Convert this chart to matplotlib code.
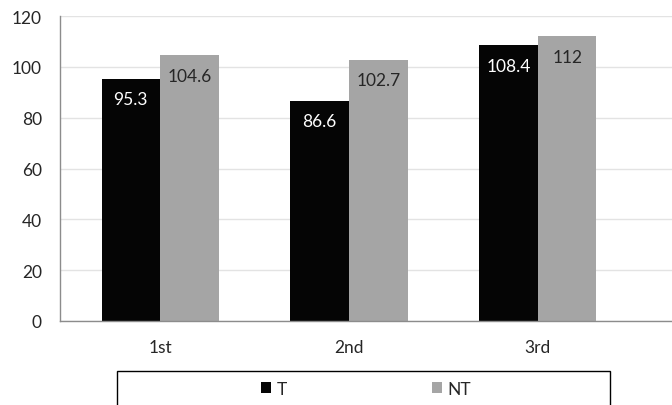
import matplotlib
matplotlib.use("Agg")
import matplotlib.pyplot as plt
import numpy as np
from matplotlib.patches import Rectangle

categories = ["1st", "2nd", "3rd"]
t_values = [95.3, 86.6, 108.4]
nt_values = [104.6, 102.7, 112]
t_labels = ["95.3", "86.6", "108.4"]
nt_labels = ["104.6", "102.7", "112"]
y_ticks = [0, 20, 40, 60, 80, 100, 120]

plt.rcParams['font.family'] = ['Lato', 'DejaVu Sans']
FS = 12.5

fig = plt.figure(figsize=(6.72, 4.06), dpi=100)
ax = fig.add_axes([60/672, (406-322)/406, 1 - 60/672, (322-17)/406])

x = np.arange(len(categories))
w = 0.31
bt = ax.bar(x - w/2, t_values, width=w, color="#050505", label="T", zorder=3)
bn = ax.bar(x + w/2, nt_values, width=w, color="#a5a5a5", label="NT", zorder=3)

for rect, lab in zip(bt, t_labels):
    ax.annotate(lab, (rect.get_x() + rect.get_width()/2, rect.get_height()),
                xytext=(0, -9), textcoords="offset points", ha="center", va="top",
                color="white", fontsize=FS, zorder=4)
for rect, lab in zip(bn, nt_labels):
    ax.annotate(lab, (rect.get_x() + rect.get_width()/2, rect.get_height()),
                xytext=(0, -9), textcoords="offset points", ha="center", va="top",
                color="#262626", fontsize=FS, zorder=4)

ax.set_ylim(0, 120)
ax.set_xlim(-0.53, 2.71)
ax.set_yticks(y_ticks)
ax.set_xticks(x)
ax.set_xticklabels(categories)
ax.tick_params(axis="y", length=0, pad=13, labelsize=FS, labelcolor="#262626")
ax.tick_params(axis="x", length=0, pad=13, labelsize=FS, labelcolor="#262626")
ax.yaxis.grid(True, color="#e3e3e3", linewidth=1, zorder=0)
for s in ["top", "right"]:
    ax.spines[s].set_visible(False)
for s in ["left", "bottom"]:
    ax.spines[s].set_color("#8c8c8c")
    ax.spines[s].set_linewidth(1)
    ax.spines[s].set_zorder(5)

fig.legend(handles=[bt, bn], labels=["T", "NT"], loc="center",
           bbox_to_anchor=(366/672, 1 - 390/406), ncol=2, frameon=False,
           handlelength=0.6, handleheight=0.6, handletextpad=0.3,
           columnspacing=8.35, fontsize=FS, labelcolor="#262626")
fig.patches.append(Rectangle((117/672, -0.05), 493/672, (406-372)/406 + 0.05,
                             transform=fig.transFigure, fill=False,
                             edgecolor="black", linewidth=1))

fig.savefig("out.png", dpi=100)
